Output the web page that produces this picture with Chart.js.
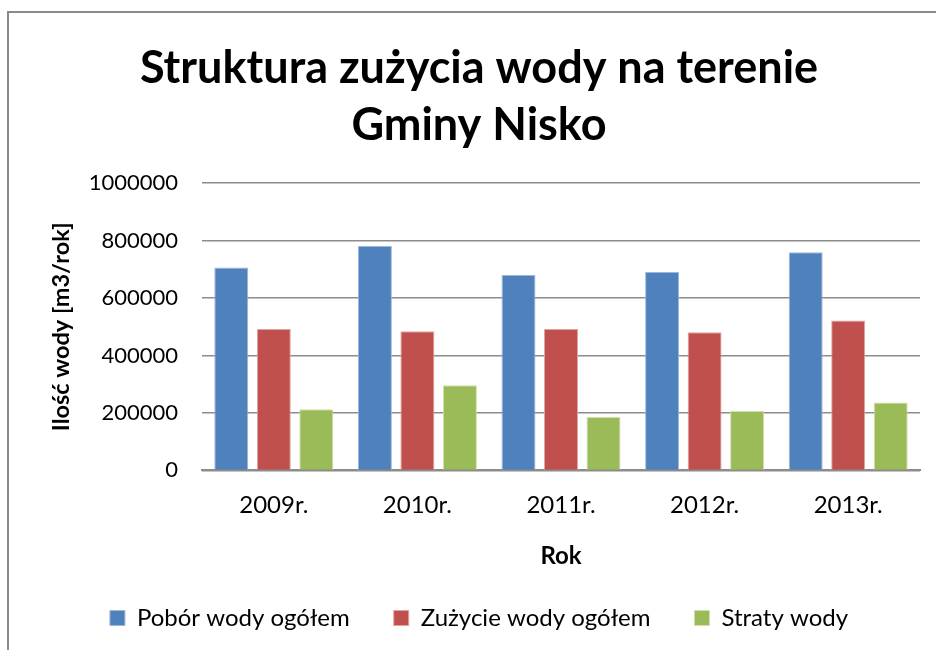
<!DOCTYPE html>
<html>
<head>
<meta charset="utf-8">
<script src="https://cdn.jsdelivr.net/npm/chart.js@4"></script>
<style>
  body { margin: 0; overflow: hidden; background: #fff; }
  #wrap { position: relative; width: 936px; height: 650px; }
  #frame { position: absolute; left: 7px; top: 11px; width: 2000px; height: 2000px;
           border: 2px solid #8a8a8a; pointer-events: none; }
</style>
</head>
<body>
<div id="wrap">
  <canvas id="myChart" width="936" height="650"></canvas>
  <div id="frame"></div>
</div>
<script>
// data
const years = ["2009r.", "2010r.", "2011r.", "2012r.", "2013r."]
const pobor = [706000, 781000, 680000, 690000, 759000]
const zuzycie = [492000, 484000, 492000, 481000, 522000]
const straty = [213000, 296000, 186000, 207000, 236000]
const seriesNames = ["Pobór wody ogółem", "Zużycie wody ogółem", "Straty wody"]
const yTicks = [0, 200000, 400000, 600000, 800000, 1000000]

const FONT = "Lato, 'Open Sans', sans-serif"
Chart.defaults.font.family = FONT
Chart.defaults.color = "#000"

const data = {
  labels: years,
  datasets: [
    { label: seriesNames[0], data: pobor, backgroundColor: "#4F81BD", borderColor: "#9db6dc", borderWidth: 1 },
    { label: seriesNames[1], data: zuzycie, backgroundColor: "#C0504D", borderColor: "#e0a5a3", borderWidth: 1 },
    { label: seriesNames[2], data: straty, backgroundColor: "#9BBB59", borderColor: "#cfe0ad", borderWidth: 1 },
  ],
}

const config = {
  type: "bar",
  data: data,
  options: {
    responsive: false,
    animation: false,
    categoryPercentage: 0.888,
    barPercentage: 0.8,
    layout: { padding: { left: 38, right: 16, top: 0, bottom: 10 } },
    plugins: {
      title: {
        display: true,
        text: ["Struktura zużycia wody na terenie", "Gminy Nisko"],
        font: { size: 45, weight: "bold", lineHeight: 1.267 },
        color: "#000",
        padding: { top: 40, bottom: 29 },
      },
      legend: {
        position: "bottom",
        labels: {
          boxWidth: 15,
          boxHeight: 15,
          padding: 44,
          font: { size: 24 },
          color: "#000",
        },
      },
      tooltip: { enabled: false },
    },
    scales: {
      y: {
        min: 0,
        max: 1000000,
        afterFit: function (scale) { scale.width = 164 },
        afterBuildTicks: function (scale) { scale.ticks = yTicks.map(v => ({ value: v })) },
        border: { display: false },
        grid: { color: "#8c8c8c", lineWidth: 1.5, drawTicks: false },
        ticks: {
          padding: 24,
          font: { size: 22 },
          color: "#000",
          callback: function (value) { return String(value) },
        },
        title: {
          display: true,
          text: "Ilość wody [m3/rok]",
          font: { size: 23.5, weight: "bold" },
          color: "#000",
          padding: { top: 9 },
        },
      },
      x: {
        border: { color: "#8c8c8c", width: 2 },
        grid: { display: false, drawTicks: false },
        ticks: { padding: 20, font: { size: 24 }, color: "#000" },
        title: {
          display: true,
          text: "Rok",
          font: { size: 24, weight: "bold" },
          color: "#000",
          padding: { top: 3, bottom: -9 },
        },
      },
    },
  },
}

const myChart = new Chart(document.getElementById("myChart"), config)
</script>
</body>
</html>
